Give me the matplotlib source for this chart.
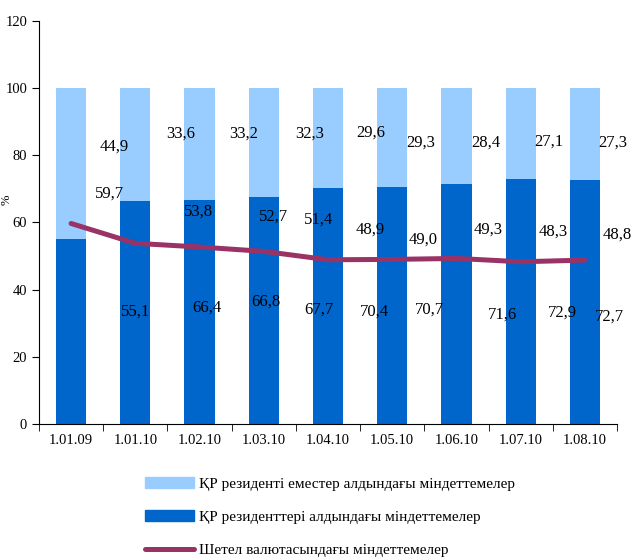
import matplotlib.pyplot as plt
import numpy as np
from matplotlib.patches import Patch
from matplotlib.lines import Line2D

plt.rcParams['font.family'] = ['Liberation Serif', 'DejaVu Serif']

dates = ['1.01.09', '1.01.10', '1.02.10', '1.03.10', '1.04.10',
         '1.05.10', '1.06.10', '1.07.10', '1.08.10']
residents = [55.1, 66.4, 66.8, 67.7, 70.4, 70.7, 71.6, 72.9, 72.7]
non_residents = [44.9, 33.6, 33.2, 32.3, 29.6, 29.3, 28.4, 27.1, 27.3]
foreign_cur = [59.7, 53.8, 52.7, 51.4, 48.9, 49.0, 49.3, 48.3, 48.8]

lbl_nonres = 'ҚР резиденті еместер алдындағы міндеттемелер'
lbl_res = 'ҚР резиденттері алдындағы міндеттемелер'
lbl_fx = 'Шетел валютасындағы міндеттемелер'

# label positions were dragged by hand in the original, so keep them as offsets
res_dx = [1.01, 1.11, 1.04, 0.86, 0.72, 0.58, 0.72, 0.65, 0.39]
res_y = [33.6, 34.5, 36.3, 33.9, 33.6, 33.9, 32.5, 33.3, 31.9]
non_dx = [0.67, 0.71, 0.68, 0.72, 0.67, 0.45, 0.45, 0.44, 0.44]
non_y = [82.5, 86.4, 86.4, 86.4, 86.7, 83.7, 83.7, 84.0, 83.7]
fx_dx = [0.60, 0.98, 1.15, 0.85, 0.66, 0.48, 0.49, 0.50, 0.50]
fx_y = [68.5, 63.1, 61.6, 60.7, 57.8, 54.8, 57.8, 57.2, 56.3]

c_light = '#99CCFF'
c_dark = '#0066CC'
c_line = '#993366'

fig = plt.figure(figsize=(6.33, 5.6), dpi=100)
ax = fig.add_axes([0.0616, 0.2429, 0.9131, 0.7196])

x = np.arange(len(dates))
w = 0.47
ax.bar(x, residents, w, color=c_dark)
ax.bar(x, non_residents, w, bottom=residents, color=c_light)
ax.plot(x, foreign_cur, color=c_line, lw=3.6, solid_capstyle='round',
        solid_joinstyle='round')

fmt = lambda v: ('%.1f' % v).replace('.', ',')
for i in range(len(dates)):
    ax.text(i + res_dx[i], res_y[i], fmt(residents[i]), ha='center',
            va='center', fontsize=12)
    ax.text(i + non_dx[i], non_y[i], fmt(non_residents[i]), ha='center',
            va='center', fontsize=12)
    ax.text(i + fx_dx[i], fx_y[i], fmt(foreign_cur[i]), ha='center',
            va='center', fontsize=12)

ax.set_xlim(-0.5, len(dates) - 0.5)
ax.set_ylim(0, 120)
ax.set_yticks(np.arange(0, 121, 20))
ax.set_xticks(x)
ax.set_xticklabels(dates)
ax.set_xticks(np.arange(-0.5, len(dates), 1), minor=True)
ax.tick_params(axis='x', which='major', length=0, pad=7, labelsize=10.5)
ax.tick_params(axis='x', which='minor', length=5, direction='out')
ax.tick_params(axis='y', length=5, direction='out', labelsize=10.5)
ax.spines['top'].set_visible(False)
ax.spines['right'].set_visible(False)
ax.set_ylabel('%', fontsize=9)
ax.yaxis.set_label_coords(-0.045, 0.556)

handles = [Patch(color=c_light), Patch(color=c_dark),
           Line2D([], [], color=c_line, lw=3.6, solid_capstyle='round')]
fig.legend(handles, [lbl_nonres, lbl_res, lbl_fx], loc='upper left',
           bbox_to_anchor=(0.229, 0.149), frameon=False, fontsize=11,
           handlelength=3.2, handleheight=0.8, handletextpad=0.35,
           labelspacing=1.25, borderaxespad=0, borderpad=0)

fig.savefig('out.png', dpi=100)
